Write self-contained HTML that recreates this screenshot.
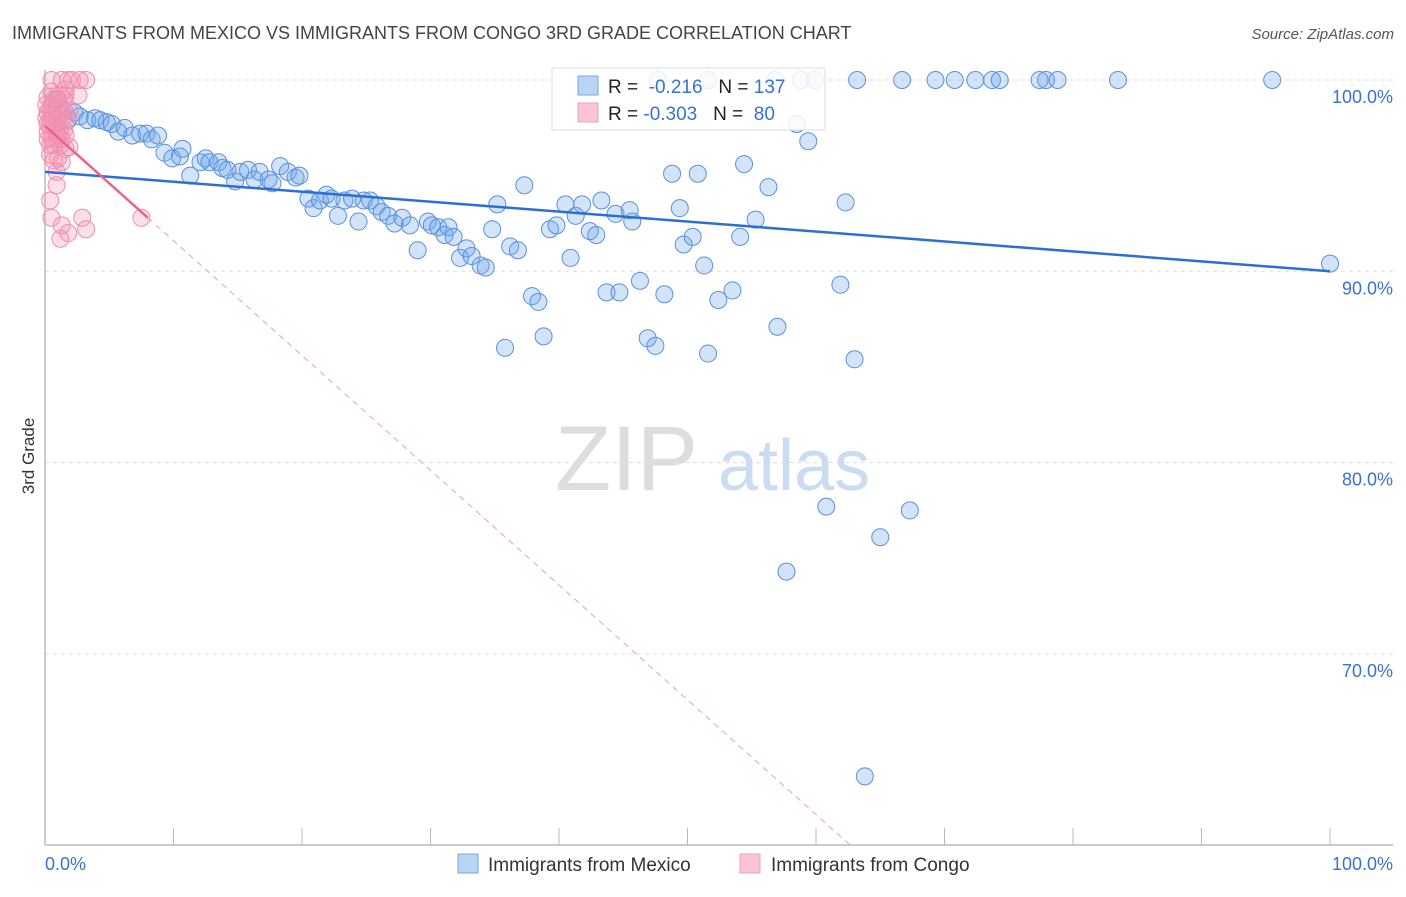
<!DOCTYPE html>
<html><head><meta charset="utf-8"><style>
body{margin:0;background:#fff;font-family:"Liberation Sans",sans-serif}
svg text{font-family:"Liberation Sans",sans-serif}
</style></head><body>
<svg id="chart" width="1406" height="892" xmlns="http://www.w3.org/2000/svg">
<text x="12" y="39" font-size="18" fill="#444">IMMIGRANTS FROM MEXICO VS IMMIGRANTS FROM CONGO 3RD GRADE CORRELATION CHART</text>
<text x="1394" y="39" font-size="15" fill="#555" text-anchor="end" font-style="italic">Source: ZipAtlas.com</text>
<text x="34" y="456" font-size="17" fill="#333" text-anchor="middle" transform="rotate(-90 34 456)">3rd Grade</text>
<g>
<text x="555" y="490" font-size="92" fill="#ddd" font-family="Liberation Serif">ZIP</text>
<text x="718" y="490" font-size="72" fill="#c9dcf2">atlas</text>
</g>
<g id="grid"></g>
<g id="ticks"></g>
<g id="marks"></g>
<g>
<rect x="552" y="68" width="273" height="62" fill="#fff" fill-opacity="0.85" stroke="#ddd"/>
<rect x="578" y="76" width="20" height="19" fill="#b9d4f5" stroke="#7aa8e0"/>
<rect x="578" y="103" width="20" height="19" fill="#f9c5d5" stroke="#eda0b8"/>
<text x="608" y="93" font-size="19" fill="#222">R = <tspan fill="#3a72d0">&#160;-0.216</tspan>&#160;&#160;&#160;N = <tspan fill="#3a72d0">137</tspan></text>
<text x="608" y="120" font-size="19" fill="#222">R = <tspan fill="#3a72d0">-0.303</tspan>&#160;&#160;&#160;N = <tspan fill="#3a72d0">&#160;80</tspan></text>
</g>
<g>
<rect x="458" y="854" width="20" height="19" fill="#b9d4f5" stroke="#7aa8e0"/>
<text x="488" y="871" font-size="19" fill="#333">Immigrants from Mexico</text>
<rect x="740" y="854" width="20" height="19" fill="#f9c5d5" stroke="#eda0b8"/>
<text x="771" y="871" font-size="19" fill="#333">Immigrants from Congo</text>
</g>
<text x="45" y="870" font-size="18" fill="#3a72d0">0.0%</text>
<text x="1393" y="870" font-size="18" fill="#3a72d0" text-anchor="end">100.0%</text>
</svg>
<script>
const yTicks=[100,90,80,70];
const yTickLabels=["100.0%","90.0%","80.0%","70.0%"];
const xTicks=[0,10,20,30,40,50,60,70,80,90,100];
const mexicoX=[0.9,1.3,1.8,2.3,2.7,3.3,3.9,4.3,4.8,5.2,5.7,6.2,6.8,7.4,7.9,8.3,8.8,9.3,9.9,10.5,10.7,11.3,12.1,12.5,12.8,13.5,13.8,14.2,14.8,15.2,15.8,16.3,16.7,17.4,17.7,18.3,18.9,19.5,19.8,20.5,20.9,21.4,21.9,22.3,22.8,23.3,23.9,24.4,24.8,25.3,25.8,26.2,26.7,27.2,27.8,28.4,29.0,29.8,30.1,30.6,31.1,31.4,31.8,32.3,32.8,33.2,33.9,34.3,34.8,35.2,35.8,36.2,36.8,37.3,37.9,38.4,38.8,39.3,39.8,40.5,40.9,41.3,41.8,42.4,42.9,43.3,43.7,44.4,44.7,45.7,45.5,46.3,46.9,47.5,48.2,48.8,49.4,49.7,50.4,50.8,51.3,51.6,52.4,53.5,54.1,54.4,55.3,56.3,57.0,57.7,58.5,59.4,60.8,61.9,62.3,63.0,63.8,65.0,67.3,47.7,51.6,56.8,58.8,59.9,63.2,66.7,69.3,70.8,72.4,73.7,74.3,77.4,77.9,78.8,83.5,95.5,100];
const mexicoY=[99.0,98.4,97.9,98.3,98.1,97.9,98.0,97.9,97.8,97.7,97.3,97.5,97.1,97.2,97.2,96.9,97.1,96.2,95.9,96.0,96.4,95.0,95.7,95.9,95.7,95.7,95.4,95.3,94.7,95.2,95.3,94.8,95.2,94.8,94.6,95.5,95.2,94.9,95.0,93.8,93.3,93.7,94.0,93.8,92.9,93.7,93.8,92.6,93.7,93.7,93.4,93.1,92.9,92.5,92.8,92.4,91.1,92.6,92.4,92.3,91.9,92.3,91.8,90.7,91.2,90.8,90.3,90.2,92.2,93.5,86.0,91.3,91.1,94.5,88.7,88.4,86.6,92.2,92.4,93.5,90.7,92.9,93.5,92.1,91.9,93.7,88.9,93.0,88.9,92.6,93.2,89.5,86.5,86.1,88.8,95.1,93.3,91.4,91.8,95.1,90.3,85.7,88.5,89.0,91.8,95.6,92.7,94.4,87.1,74.3,97.7,96.8,77.7,89.3,93.6,85.4,63.6,76.1,77.5,100,100,100,100,100,100,100,100,100,100,100,100,100,100,100,100,100,90.4];
const congoX=[0.5,1.3,1.8,2.1,3.2,0.2,0.5,0.9,1.2,1.5,1.6,0.4,0.7,1.0,0.2,0.5,0.9,1.2,1.6,0.4,0.7,1.0,1.3,0.9,0.9,0.4,0.5,1.2,1.3,1.8,2.9,3.2,7.5,2.6,1.9,1.5,0.2,1.0,0.5,1.2,0.4,0.1,1.3,0.7,1.6,0.2,0.9,1.2,0.4,1.0,1.5,0.5,1.8,0.1,0.9,1.3,0.4,0.7,0.2,1.0,2.7,1.9,1.6];
const congoY=[100,100,100,100,100,99.1,98.7,98.4,98.2,99.0,99.2,97.9,97.6,97.5,97.3,97.0,96.9,96.6,96.4,96.1,95.8,95.9,95.7,95.2,94.5,93.7,92.8,91.7,92.4,92.0,92.8,92.2,92.8,99.2,98.4,97.4,98.3,98.6,99.4,99.2,98.5,98.0,97.9,96.6,97.1,96.9,98.0,97.4,97.6,99.0,98.4,98.2,98.0,98.7,97.3,96.9,96.6,99.0,97.7,97.1,100,96.5,99.5];
const mexicoTrend=[95.2,-0.052];
const congoTrend=[97.6,-0.6];
const congoSolidEnd=8;
const NS="http://www.w3.org/2000/svg";
const X=v=>45+v*12.85;
const Y=v=>80+(100-v)*19.13;
function mk(tag,attrs,parent){const e=document.createElementNS(NS,tag);for(const k in attrs)e.setAttribute(k,attrs[k]);document.getElementById(parent).appendChild(e);return e;}
yTicks.forEach((t,i)=>{
 const l=mk('line',{x1:45,x2:1393,y1:Y(t),y2:Y(t),stroke:'#ddd','stroke-dasharray':'4,4'},'grid');
 
 
 const tx=mk('text',{x:1393,y:Y(t)+23,'font-size':18,fill:'#3a72d0','text-anchor':'end'},'grid');
 tx.textContent=yTickLabels[i];
 
 
});
const ax=mk('line',{x1:45,x2:1393,y1:845,y2:845,stroke:'#bbb','stroke-width':1.5},'ticks');


const yax=mk('line',{x1:45,x2:45,y1:70,y2:845,stroke:'#bbb','stroke-width':1.5},'ticks');


xTicks.forEach(t=>{
 const l=mk('line',{x1:X(t),x2:X(t),y1:828,y2:845,stroke:'#bbb'},'ticks');
 
 
});
mexicoX.forEach((x,i)=>{
 const c=mk('circle',{cx:X(x),cy:Y(mexicoY[i]),r:8.5,fill:'rgba(110,165,235,0.3)',stroke:'#5a90dc','stroke-width':1},'marks');
 
 
});
congoX.forEach((x,i)=>{
 const c=mk('circle',{cx:X(x),cy:Y(congoY[i]),r:8.5,fill:'rgba(245,150,180,0.3)',stroke:'#ec8fae','stroke-width':1},'marks');
 
 
});
const mt=mk('line',{x1:X(0),y1:Y(mexicoTrend[0]),x2:X(100),y2:Y(mexicoTrend[0]+mexicoTrend[1]*100),stroke:'#2b6fd6','stroke-width':2.5},'marks');


const cs=mk('line',{x1:X(0),y1:Y(congoTrend[0]),x2:X(congoSolidEnd),y2:Y(congoTrend[0]+congoTrend[1]*congoSolidEnd),stroke:'#e8648e','stroke-width':2.5},'marks');


const xEnd=(60-congoTrend[0])/congoTrend[1];
const cd=mk('line',{x1:X(congoSolidEnd),y1:Y(congoTrend[0]+congoTrend[1]*congoSolidEnd),x2:X(xEnd),y2:Y(60),stroke:'#e8a0b8','stroke-width':1,'stroke-dasharray':'6,5'},'marks');


</script>
</body></html>
